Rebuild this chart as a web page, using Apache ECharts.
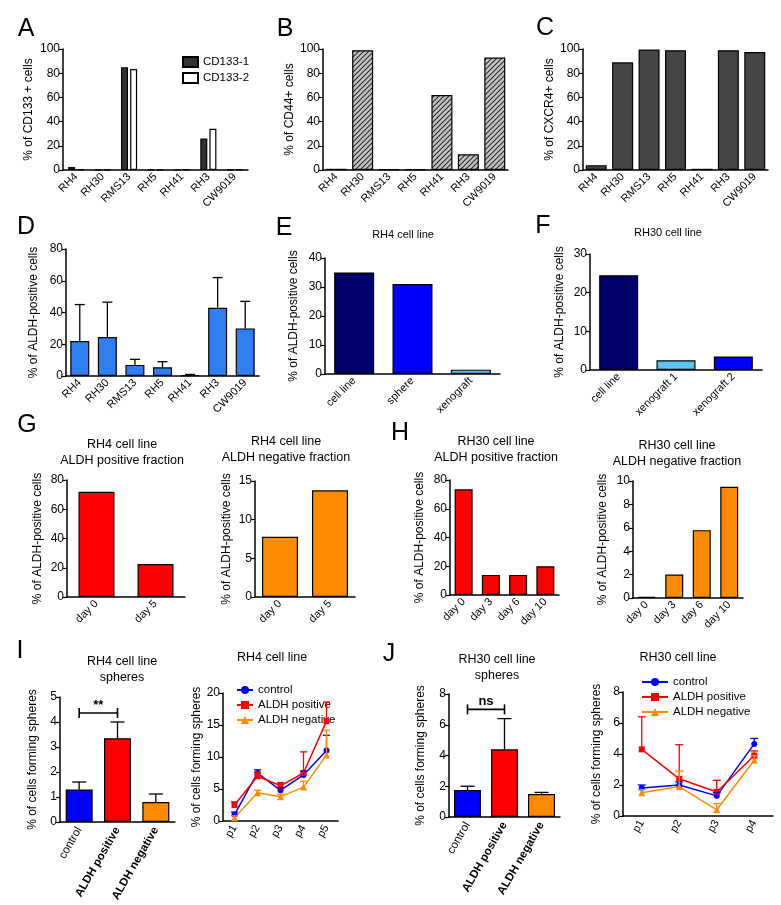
<!DOCTYPE html>
<html>
<head>
<meta charset="utf-8">
<script src="https://cdn.jsdelivr.net/npm/echarts@6/dist/echarts.min.js"></script>
<style>
  html, body { margin: 0; padding: 0; background: #fff; }
  #main { width: 781px; height: 905px; }
</style>
</head>
<body>
<div id="main"></div>
<script>
// cell lines for A-D
const lines7 = ['RH4', 'RH30', 'RMS13', 'RH5', 'RH41', 'RH3', 'CW9019'];
const cd133a = [2.5, 0.3, 85, 0.3, 0, 26, 0.3];
const cd133b = [0.7, 0.3, 83.5, 0.2, 0.5, 34, 0.3];
const cd44 = [1, 99, 0.5, 0.5, 62, 13, 93];
const cxcr4 = [4, 89, 99.5, 99, 1, 99, 97.5];
const aldhMean = [22, 24.5, 7, 5.5, 0.5, 43, 30];
const aldhUpper = [45, 46.5, 10.5, 9, 1, 62, 47];

// E, F
const rh4Cats = ['cell line', 'sphere', 'xenograft'];
const rh4Aldh = [35, 31, 1.5];
const rh30Cats = ['cell line', 'xenograft 1', 'xenograft 2'];
const rh30Aldh = [24.5, 2.5, 3.5];

// G, H
const daysG = ['day 0', 'day 5'];
const rh4PosFrac = [72, 22.5];
const rh4NegFrac = [7.8, 13.8];
const daysH = ['day 0', 'day 3', 'day 6', 'day 10'];
const rh30PosFrac = [73.5, 14, 14, 20];
const rh30NegFrac = [0.1, 2.0, 5.8, 9.5];

// I, J spheres
const sphereCats = ['control', 'ALDH positive', 'ALDH negative'];
const rh4Sph = [1.3, 3.35, 0.8];
const rh4SphUp = [1.6, 4.0, 1.12];
const rh30Sph = [1.75, 4.4, 1.5];
const rh30SphUp = [2.0, 6.4, 1.6];
const sigI = 4.36;
const sigJ = 7.0;

const passI = ['p1', 'p2', 'p3', 'p4', 'p5'];
const rh4Ctrl = [1.0, 7.5, 4.8, 7.2, 11.0];
const rh4CtrlUp = [1.4, 8.0, 5.2, 7.8, 13.4];
const rh4Pos = [2.5, 7.0, 5.5, 7.5, 15.6];
const rh4PosUp = [3.0, 7.6, 6.0, 10.8, 18.6];
const rh4Neg = [0.5, 4.4, 3.8, 5.3, 10.3];
const rh4NegUp = [0.8, 4.8, 4.2, 6.2, 14.2];

const passJ = ['p1', 'p2', 'p3', 'p4'];
const rh30Ctrl = [1.8, 2.0, 1.3, 4.65];
const rh30CtrlUp = [2.0, 2.2, 1.5, 5.0];
const rh30Pos = [4.3, 2.4, 1.55, 3.9];
const rh30PosUp = [6.4, 4.6, 2.3, 4.2];
const rh30Neg = [1.5, 1.9, 0.4, 3.6];
const rh30NegUp = [1.7, 2.9, 0.8, 3.9];

const FONT = 'Liberation Sans';
const BLUE = '#0000ff', RED = '#ff0000', ORANGE = '#ff8a00';

// hatch fill for panel B
const hatch = document.createElement('canvas');
hatch.width = hatch.height = 5;
(function () {
  const c = hatch.getContext('2d');
  c.fillStyle = '#c4c4c4';
  c.fillRect(0, 0, 5, 5);
  c.strokeStyle = '#2a2a2a';
  c.lineWidth = 1.1;
  c.beginPath();
  c.moveTo(-1, 6); c.lineTo(6, -1);
  c.moveTo(-1, 1); c.lineTo(1, -1);
  c.moveTo(4, 6); c.lineTo(6, 4);
  c.stroke();
})();

const grids = [
  [63, 49, 185, 121],   // A
  [323, 49, 185, 121],  // B
  [583, 49, 185, 121],  // C
  [66, 249, 193, 127],  // D
  [325, 258, 175, 116], // E
  [590, 254, 172, 116], // F
  [67, 480, 118, 117],  // G left
  [255, 481, 100, 116], // G right
  [450, 480, 109, 115], // H left
  [633, 481, 110, 117], // H right
  [60, 697, 115, 125],  // I left
  [223, 693, 115, 128], // I right
  [449, 694, 111, 123], // J left
  [623, 692, 150, 124]  // J right
].map(g => ({ left: g[0], top: g[1], width: g[2], height: g[3] }));

function xCat(gi, data, rot, extra) {
  return Object.assign({
    type: 'category', gridIndex: gi, data: data,
    axisLine: { lineStyle: { color: '#000', width: 1.5 } },
    axisTick: { alignWithLabel: true, length: 4, lineStyle: { color: '#000', width: 1.2 } },
    axisLabel: { rotate: rot, fontSize: 11, color: '#000', margin: 5, interval: 0 }
  }, extra || {});
}

function yVal(gi, max, interval, name, gap) {
  return {
    type: 'value', gridIndex: gi, min: 0, max: max, interval: interval,
    name: name, nameLocation: 'middle', nameGap: gap, nameRotate: 90,
    nameTextStyle: { fontSize: 12, color: '#000' },
    axisLine: { show: true, lineStyle: { color: '#000', width: 1.5 } },
    axisTick: { show: true, length: 4, lineStyle: { color: '#000', width: 1.2 } },
    axisLabel: { fontSize: 12, color: '#000', margin: 3 },
    splitLine: { show: false }
  };
}

function bar(gi, data, color, width, extra) {
  return Object.assign({
    type: 'bar', xAxisIndex: gi, yAxisIndex: gi, data: data, barWidth: width,
    itemStyle: { color: color, borderColor: '#000', borderWidth: 1.2 },
    silent: true
  }, extra || {});
}

function errBars(gi, means, ups, color, cap) {
  return {
    type: 'custom', xAxisIndex: gi, yAxisIndex: gi, silent: true, z: 5,
    data: means.map((m, i) => [i, m, ups[i]]),
    renderItem: function (p, api) {
      const lo = api.coord([api.value(0), api.value(1)]);
      const hi = api.coord([api.value(0), api.value(2)]);
      const st = { stroke: color, lineWidth: 1.3 };
      return {
        type: 'group', children: [
          { type: 'line', shape: { x1: lo[0], y1: lo[1], x2: lo[0], y2: hi[1] }, style: st },
          { type: 'line', shape: { x1: lo[0] - cap / 2, y1: hi[1], x2: lo[0] + cap / 2, y2: hi[1] }, style: st }
        ]
      };
    }
  };
}

function sigBracket(gi, from, to, level, label) {
  return {
    type: 'custom', xAxisIndex: gi, yAxisIndex: gi, silent: true, z: 6,
    data: [[from, to, level]],
    renderItem: function (p, api) {
      const a = api.coord([api.value(0), api.value(2)]);
      const b = api.coord([api.value(1), api.value(2)]);
      const st = { stroke: '#000', lineWidth: 1.6 };
      return {
        type: 'group', children: [
          { type: 'line', shape: { x1: a[0], y1: a[1], x2: b[0], y2: b[1] }, style: st },
          { type: 'line', shape: { x1: a[0], y1: a[1] - 5, x2: a[0], y2: a[1] + 5 }, style: st },
          { type: 'line', shape: { x1: b[0], y1: b[1] - 5, x2: b[0], y2: b[1] + 5 }, style: st },
          { type: 'text', x: (a[0] + b[0]) / 2, y: a[1] - 1,
            style: { text: label, fontSize: 13, fontWeight: 'bold', fill: '#000', align: 'center', verticalAlign: 'bottom', fontFamily: FONT } }
        ]
      };
    }
  };
}

function line(gi, name, data, color, symbol) {
  return {
    type: 'line', name: name, xAxisIndex: gi, yAxisIndex: gi, data: data,
    symbol: symbol, symbolSize: symbol === 'triangle' ? 7 : 6,
    lineStyle: { color: color, width: 1.5 }, itemStyle: { color: color },
    z: 4, silent: true
  };
}

function txt(x, y, text, size, extra) {
  return {
    type: 'text', x: x, y: y,
    style: Object.assign({ text: text, fontSize: size, fill: '#000', fontFamily: FONT,
      align: 'center', verticalAlign: 'middle', lineHeight: Math.round(size * 1.3) }, extra || {})
  };
}

const boldRich = {
  formatter: v => v === 'control' ? v : '{b|' + v + '}',
  rich: { b: { fontWeight: 'bold', fontSize: 11.5, fontFamily: FONT } }
};

const chart = echarts.init(document.getElementById('main'));
chart.setOption({
  animation: false,
  backgroundColor: '#fff',
  textStyle: { fontFamily: FONT },
  grid: grids,
  xAxis: [
    xCat(0, lines7, 45),
    xCat(1, lines7, 45),
    xCat(2, lines7, 45),
    xCat(3, lines7, 45),
    xCat(4, rh4Cats, 45),
    xCat(5, rh30Cats, 45),
    xCat(6, daysG, 45),
    xCat(7, daysG, 45),
    xCat(8, daysH, 45),
    xCat(9, daysH, 45),
    xCat(10, sphereCats, 60, { axisLabel: Object.assign({ rotate: 60, fontSize: 11.5, color: '#000', margin: 6, interval: 0 }, boldRich) }),
    xCat(11, passI, 60),
    xCat(12, sphereCats, 60, { axisLabel: Object.assign({ rotate: 60, fontSize: 11.5, color: '#000', margin: 6, interval: 0 }, boldRich) }),
    xCat(13, passJ, 60)
  ],
  yAxis: [
    yVal(0, 100, 20, '% of CD133 + cells', 28),
    yVal(1, 100, 20, '% of CD44+ cells', 26),
    yVal(2, 100, 20, '% of CXCR4+ cells', 26),
    yVal(3, 80, 20, '% of ALDH-positive cells', 26),
    yVal(4, 40, 10, '% of ALDH-positive cells', 25),
    yVal(5, 30, 10, '% of ALDH-positive cells', 24),
    yVal(6, 80, 20, '% of ALDH-positive cells', 23),
    yVal(7, 15, 5, '% of ALDH-positive cells', 22),
    yVal(8, 80, 20, '% of ALDH-positive cells', 24),
    yVal(9, 10, 2, '% of ALDH-positive cells', 24),
    yVal(10, 5, 1, '% of cells forming spheres', 21),
    yVal(11, 20, 5, '% of cells forming spheres', 15),
    yVal(12, 8, 2, '% of cells forming spheres', 22),
    yVal(13, 8, 2, '% of cells forming spheres', 20)
  ],
  legend: [
    {
      left: 177, top: 51, orient: 'vertical', itemGap: 4, itemWidth: 15, itemHeight: 10, icon: 'rect',
      data: ['CD133-1', 'CD133-2'], textStyle: { fontSize: 11.5, color: '#000' }, selectedMode: false
    },
    {
      left: 231, top: 679, orient: 'vertical', itemGap: 3, itemWidth: 16, itemHeight: 10,
      data: ['control', 'ALDH positive', 'ALDH negative'], textStyle: { fontSize: 11.5, color: '#000' }, selectedMode: false
    },
    {
      left: 636, top: 671, orient: 'vertical', itemGap: 3, itemWidth: 26, itemHeight: 10,
      data: ['control', 'ALDH positive', 'ALDH negative'], textStyle: { fontSize: 11.5, color: '#000' }, selectedMode: false
    }
  ],
  graphic: [
    txt(26, 29, 'A', 25), txt(285, 29, 'B', 25), txt(545, 28, 'C', 25),
    txt(26, 227, 'D', 25), txt(284, 228, 'E', 25), txt(543, 226, 'F', 25),
    txt(27, 425, 'G', 25), txt(400, 433, 'H', 25), txt(20, 651, 'I', 25), txt(389, 654, 'J', 25),
    txt(403, 235, 'RH4 cell line', 11),
    txt(668, 233, 'RH30 cell line', 11),
    txt(122, 453, 'RH4 cell line\nALDH positive fraction', 12.5),
    txt(286, 450, 'RH4 cell line\nALDH negative fraction', 12.5),
    txt(496, 450, 'RH30 cell line\nALDH positive fraction', 12.5),
    txt(677, 454, 'RH30 cell line\nALDH negative fraction', 12.5),
    txt(122, 670, 'RH4 cell line\nspheres', 12.5),
    txt(272, 658, 'RH4 cell line', 12.5),
    txt(497, 668, 'RH30 cell line\nspheres', 12.5),
    txt(678, 658, 'RH30 cell line', 12.5)
  ],
  series: [
    bar(0, cd133a, '#333333', 7, { name: 'CD133-1', barGap: '30%' }),
    bar(0, cd133b, '#ffffff', 7, { name: 'CD133-2', barGap: '30%' }),
    bar(1, cd44, { image: hatch, repeat: 'repeat' }, 21),
    bar(2, cxcr4, '#444444', 21),
    bar(3, aldhMean, '#2f7ff2', 19),
    errBars(3, aldhMean, aldhUpper, '#000', 10),
    bar(4, rh4Aldh, '#00006a', 40, {
      data: rh4Aldh.map((v, i) => ({ value: v, itemStyle: { color: ['#00006a', '#0000ff', '#5cc3f2'][i] } }))
    }),
    bar(5, rh30Aldh, '#00006a', 39, {
      data: rh30Aldh.map((v, i) => ({ value: v, itemStyle: { color: ['#00006a', '#5cc3f2', '#0000ff'][i] } }))
    }),
    bar(6, rh4PosFrac, RED, 36),
    bar(7, rh4NegFrac, ORANGE, 36),
    bar(8, rh30PosFrac, RED, 18),
    bar(9, rh30NegFrac, ORANGE, 18),
    bar(10, rh4Sph, BLUE, 27, {
      data: rh4Sph.map((v, i) => ({ value: v, itemStyle: { color: [BLUE, RED, ORANGE][i] } }))
    }),
    errBars(10, rh4Sph, rh4SphUp, '#000', 14),
    sigBracket(10, 0, 1, sigI, '**'),
    errBars(11, rh4Ctrl, rh4CtrlUp, BLUE, 7),
    errBars(11, rh4Pos, rh4PosUp, RED, 7),
    errBars(11, rh4Neg, rh4NegUp, ORANGE, 7),
    line(11, 'control', rh4Ctrl, BLUE, 'circle'),
    line(11, 'ALDH positive', rh4Pos, RED, 'rect'),
    line(11, 'ALDH negative', rh4Neg, ORANGE, 'triangle'),
    bar(12, rh30Sph, BLUE, 27, {
      data: rh30Sph.map((v, i) => ({ value: v, itemStyle: { color: [BLUE, RED, ORANGE][i] } }))
    }),
    errBars(12, rh30Sph, rh30SphUp, '#000', 14),
    sigBracket(12, 0, 1, sigJ, 'ns'),
    errBars(13, rh30Ctrl, rh30CtrlUp, BLUE, 8),
    errBars(13, rh30Pos, rh30PosUp, RED, 8),
    errBars(13, rh30Neg, rh30NegUp, ORANGE, 8),
    line(13, 'control', rh30Ctrl, BLUE, 'circle'),
    line(13, 'ALDH positive', rh30Pos, RED, 'rect'),
    line(13, 'ALDH negative', rh30Neg, ORANGE, 'triangle')
  ]
});
</script>
</body>
</html>
